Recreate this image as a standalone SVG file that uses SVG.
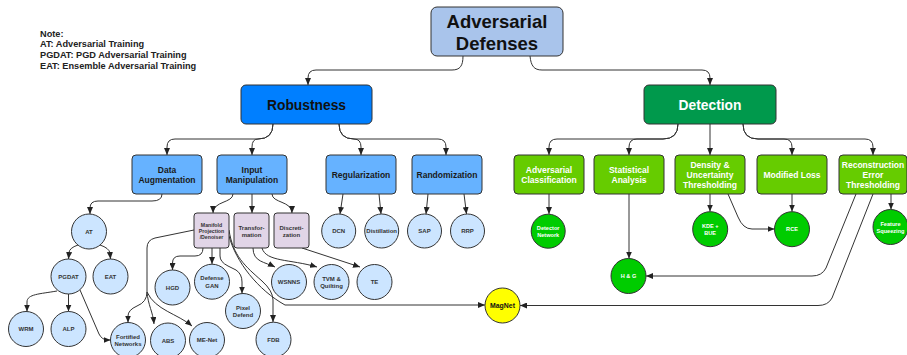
<svg xmlns="http://www.w3.org/2000/svg" width="907" height="355" viewBox="0 0 907 355">
<style>
text{font-family:"Liberation Sans",Arial,sans-serif;font-weight:bold;text-anchor:middle}
.box{stroke:#333;stroke-width:1}
.root{fill:#a9c4eb}
.l1b{fill:#007fff}
.l1g{fill:#00994c}
.l2b{fill:#66b2ff}
.l2g{fill:#66cc00}
.pur{fill:#e1d5e7}
.cb{fill:#cce5ff;stroke:#333;stroke-width:1}
.cg{fill:#00cc00;stroke:#333;stroke-width:1}
.cy{fill:#ffff00;stroke:#333;stroke-width:1}
.t18{font-size:18.5px;fill:#111}
.t14{font-size:13.8px;fill:#111}
.t14w{font-size:13.8px;fill:#fff}
.t85{font-size:8.5px;fill:#1a1a1a}
.t85w{font-size:8.5px;fill:#fff}
.t6{font-size:6px;fill:#333}
.t6w{font-size:5.6px;fill:#fff}
.t53{font-size:5.2px;fill:#333}
.note{font-size:9.2px;fill:#222;text-anchor:start}
.e{fill:none;stroke:#333;stroke-width:1;marker-end:url(#ah)}
.en{fill:none;stroke:#333;stroke-width:1}
</style>
<defs>
<marker id="ah" markerWidth="7" markerHeight="6" refX="7" refY="3" orient="auto" markerUnits="userSpaceOnUse">
<path d="M0,0 L7,3 L0,6 z" fill="#222"/>
</marker>
</defs>

<g id="note">
<text class="note" x="40" y="36.5">Note:</text>
<text class="note" x="40" y="47.2">AT: Adversarial Training</text>
<text class="note" x="40" y="57.9">PGDAT: PGD Adversarial Training</text>
<text class="note" x="40" y="68.6">EAT: Ensemble Adversarial Training</text>
</g>

<g id="connectors">
<path class="e" d="M463,56 C463,66 460,70 452,70 L316,70 Q308,70 308,78 L308,85"/>
<path class="e" d="M530,56 C531,66 534,70 542,70 L702,70 Q710,70 710,78 L710,85"/>
<path class="e" d="M273,124 Q273,139 258,139 L175,139 Q167,139 167,147 L167,155"/>
<path class="e" d="M273,124 Q273,139 258,139 Q252,139 252,147 L252,155"/>
<path class="e" d="M339,124 Q339,139 354,139 Q361,139 361,147 L361,155"/>
<path class="e" d="M339,124 Q339,139 354,139 L438,139 Q446,139 446,147 L446,155"/>
<path class="e" d="M678,124 Q678,139 663,139 L557,139 Q549,139 549,147 L549,155"/>
<path class="e" d="M678,124 Q678,139 663,139 L637,139 Q629,139 629,147 L629,155"/>
<path class="e" d="M710,124 L710,155"/>
<path class="e" d="M743,124 Q743,139 758,139 L784,139 Q792,139 792,147 L792,155"/>
<path class="e" d="M743,124 Q743,139 758,139 L865,139 Q873,139 873,147 L873,155"/>

<path class="e" d="M162,194 Q162,201 152,201 L98,201 Q90,201 90,208 L90,214"/>
<path class="e" d="M78,245 Q69,248 69,253 L68.5,259"/>
<path class="e" d="M100,245 Q109,248 110,253 L110.5,259"/>
<path class="e" d="M57,291 C40,294 27,294 27,302 L27,311.5"/>
<path class="e" d="M68.5,294 L68.5,311.5"/>
<path class="e" d="M80,290 L99,334 Q102,340 108,340 L110.5,340"/>

<path class="e" d="M233,194 C233,203 213,201 213,213"/>
<path class="e" d="M252,194 L252,213"/>
<path class="e" d="M272,194 C272,203 292,201 292,213"/>

<path class="en" d="M194,230 L155,238 Q147,240 147,248 L147,292"/>
<path class="e" d="M147,292 Q147,302 137,306 Q128,310 128,316 L128,322.5"/>
<path class="e" d="M147,292 C148,305 153,312 154,324"/>
<path class="e" d="M147,292 C155,310 178,314 192,326"/>
<path class="e" d="M203,248 Q203,256 195,256 L180,256 Q172.5,256 172.5,263 L172.5,270"/>
<path class="e" d="M212,248 L212,264"/>
<path class="e" d="M220,248 L220,256 Q220,262 228,266 L236,270 Q242,274 242,282 L242,293.5"/>
<path class="e" d="M229,230 C233,256 245,266 262,281 Q273,291 273,300 L273,322"/>
<path class="e" d="M229,236 C236,262 258,290 285,305 L485,305"/>
<path class="e" d="M253,248 C253,262 265,262 275,267"/>
<path class="e" d="M262,248 C266,262 290,259 317,267"/>
<path class="e" d="M302,248 L360,267"/>

<path class="e" d="M343,194 L340,214"/>
<path class="e" d="M379,194 L381,214"/>
<path class="e" d="M428,194 L426,214"/>
<path class="e" d="M464,194 L466.5,214"/>

<path class="e" d="M549,194 L549,214"/>
<path class="e" d="M629,194 L629,258.5"/>
<path class="e" d="M710,194 L710,211.5"/>
<path class="e" d="M728,194 L738,217 Q743,229 752,229 L774.5,229"/>
<path class="e" d="M792,194 L792,211.5"/>
<path class="e" d="M891,194 L891,209.5"/>
<path class="e" d="M856,194 L826,268 Q822,276 812,276 L646,276"/>
<path class="e" d="M873,194 L832,298 Q828,305.5 818,305.5 L520,305.5"/>
</g>

<g id="root"><rect class="box root" x="431" y="7" width="132" height="49" rx="6"/>
<text class="t18" x="497" y="27.5">Adversarial</text><text class="t18" x="497" y="49.5">Defenses</text></g>

<g id="robustness"><rect class="box l1b" x="241" y="85" width="131" height="39" rx="5"/>
<text class="t14" x="306.5" y="110">Robustness</text></g>
<g id="detection"><rect class="box l1g" x="644" y="85" width="132" height="39" rx="5"/>
<text class="t14w" x="710" y="110">Detection</text></g>

<g id="data-augmentation"><rect class="box l2b" x="132" y="155" width="70" height="39" rx="4"/>
<text class="t85" x="167" y="173">Data</text><text class="t85" x="167" y="183">Augmentation</text></g>
<g id="input-manipulation"><rect class="box l2b" x="217" y="155" width="70" height="39" rx="4"/>
<text class="t85" x="252" y="173">Input</text><text class="t85" x="252" y="183">Manipulation</text></g>
<g id="regularization"><rect class="box l2b" x="326" y="155" width="70" height="39" rx="4"/>
<text class="t85" x="361" y="178">Regularization</text></g>
<g id="randomization"><rect class="box l2b" x="412" y="155" width="70" height="39" rx="4"/>
<text class="t85" x="447" y="178">Randomization</text></g>

<g id="adversarial-classification"><rect class="box l2g" x="514" y="155" width="70" height="39" rx="4"/>
<text class="t85w" x="549" y="173">Adversarial</text><text class="t85w" x="549" y="183">Classification</text></g>
<g id="statistical-analysis"><rect class="box l2g" x="594" y="155" width="70" height="39" rx="4"/>
<text class="t85w" x="629" y="173">Statistical</text><text class="t85w" x="629" y="183">Analysis</text></g>
<g id="density"><rect class="box l2g" x="675" y="155" width="70" height="39" rx="4"/>
<text class="t85w" x="710" y="168">Density &amp;</text><text class="t85w" x="710" y="178">Uncertainty</text><text class="t85w" x="710" y="188">Thresholding</text></g>
<g id="modified-loss"><rect class="box l2g" x="757" y="155" width="70" height="39" rx="4"/>
<text class="t85w" x="792" y="178">Modified Loss</text></g>
<g id="reconstruction"><rect class="box l2g" x="839" y="155" width="68" height="39" rx="4"/>
<text class="t85w" x="873" y="168">Reconstruction</text><text class="t85w" x="873" y="178">Error</text><text class="t85w" x="873" y="188">Thresholding</text></g>

<g id="manifold"><rect class="box pur" x="194" y="213" width="35" height="35" rx="3"/>
<text class="t53" x="211.5" y="227">Manifold</text><text class="t53" x="211.5" y="233.2">Projection</text><text class="t53" x="211.5" y="239.4">/Denoiser</text></g>
<g id="transformation"><rect class="box pur" x="234" y="213" width="35" height="35" rx="3"/>
<text class="t6" x="251.5" y="229.5">Transfor-</text><text class="t6" x="251.5" y="236.5">mation</text></g>
<g id="discretization"><rect class="box pur" x="274" y="213" width="35" height="35" rx="3"/>
<text class="t6" x="291.5" y="229.5">Discreti-</text><text class="t6" x="291.5" y="236.5">zation</text></g>

<g id="at"><circle class="cb" cx="89" cy="231.5" r="17.5"/><text class="t6" x="89" y="233.7">AT</text></g>
<g id="pgdat"><circle class="cb" cx="68.5" cy="276.5" r="17.5"/><text class="t6" x="68.5" y="278.7">PGDAT</text></g>
<g id="eat"><circle class="cb" cx="110.5" cy="276.5" r="17.5"/><text class="t6" x="110.5" y="278.7">EAT</text></g>
<g id="wrm"><circle class="cb" cx="26" cy="329" r="17.5"/><text class="t6" x="26" y="331.2">WRM</text></g>
<g id="alp"><circle class="cb" cx="68.5" cy="329" r="17.5"/><text class="t6" x="68.5" y="331.2">ALP</text></g>
<g id="fortified"><circle class="cb" cx="128" cy="340" r="17.5"/><text class="t6" x="128" y="338.5">Fortified</text><text class="t6" x="128" y="345.8">Networks</text></g>
<g id="abs"><circle class="cb" cx="168" cy="340.5" r="17.5"/><text class="t6" x="168" y="342.7">ABS</text></g>
<g id="me-net"><circle class="cb" cx="207" cy="340" r="17.5"/><text class="t6" x="207" y="342.2">ME-Net</text></g>
<g id="hgd"><circle class="cb" cx="172.5" cy="287.5" r="17.5"/><text class="t6" x="172.5" y="289.7">HGD</text></g>
<g id="defense-gan"><circle class="cb" cx="212" cy="281.7" r="17.5"/><text class="t6" x="212" y="280.3">Defense</text><text class="t6" x="212" y="287.6">GAN</text></g>
<g id="pixel-defend"><circle class="cb" cx="243" cy="311" r="17.5"/><text class="t6" x="243" y="309.6">Pixel</text><text class="t6" x="243" y="316.9">Defend</text></g>
<g id="fdb"><circle class="cb" cx="273.5" cy="339.7" r="17.5"/><text class="t6" x="273.5" y="341.9">FDB</text></g>
<g id="wsnns"><circle class="cb" cx="289" cy="282" r="17.5"/><text class="t6" x="289" y="284.2">WSNNS</text></g>
<g id="tvm"><circle class="cb" cx="331.5" cy="282" r="17.5"/><text class="t6" x="331.5" y="280.6">TVM &amp;</text><text class="t6" x="331.5" y="287.9">Quilting</text></g>
<g id="te"><circle class="cb" cx="374.5" cy="282" r="17.5"/><text class="t6" x="374.5" y="284.2">TE</text></g>
<g id="dcn"><circle class="cb" cx="338.7" cy="231" r="17"/><text class="t6" x="338.7" y="233.2">DCN</text></g>
<g id="distillation"><circle class="cb" cx="381.7" cy="231" r="17"/><text class="t6" x="381.7" y="233.2">Distillation</text></g>
<g id="sap"><circle class="cb" cx="424.5" cy="231" r="17"/><text class="t6" x="424.5" y="233.2">SAP</text></g>
<g id="rrp"><circle class="cb" cx="467.5" cy="231" r="17"/><text class="t6" x="467.5" y="233.2">RRP</text></g>

<g id="magnet"><circle class="cy" cx="502.5" cy="305.5" r="17.5"/><text class="t6" x="502.5" y="308" style="font-size:6.9px;fill:#111">MagNet</text></g>

<g id="detector-network"><circle class="cg" cx="548.2" cy="231.2" r="17"/><text class="t6w" x="548.2" y="229.8">Detector</text><text class="t6w" x="548.2" y="237">Network</text></g>
<g id="kde-bue"><circle class="cg" cx="710.2" cy="229.2" r="17.5"/><text class="t6w" x="710.2" y="227.8">KDE +</text><text class="t6w" x="710.2" y="235">BUE</text></g>
<g id="rce"><circle class="cg" cx="792" cy="229.2" r="17.5"/><text class="t6w" x="792" y="231.2">RCE</text></g>
<g id="feature-squeezing"><circle class="cg" cx="890.5" cy="227" r="17.5"/><text class="t6w" x="890.5" y="225.6">Feature</text><text class="t6w" x="890.5" y="232.8">Squeezing</text></g>
<g id="hg"><circle class="cg" cx="628.5" cy="276" r="17.5"/><text class="t6w" x="628.5" y="278">H &amp; G</text></g>
</svg>
